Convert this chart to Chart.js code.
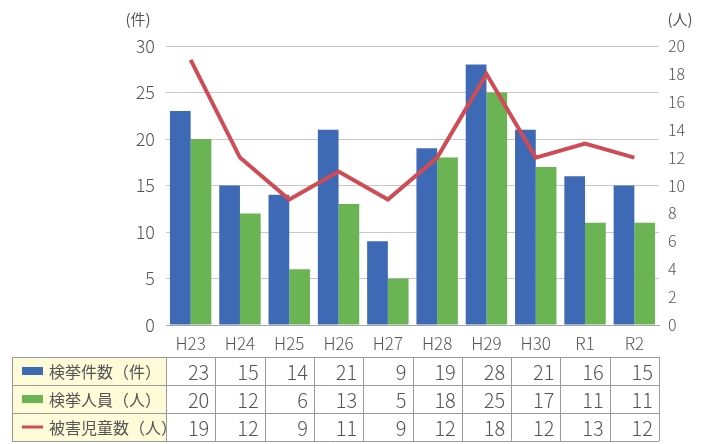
<!DOCTYPE html>
<html lang="ja">
<head>
<meta charset="utf-8">
<script src="https://cdn.jsdelivr.net/npm/chart.js@4/dist/chart.umd.min.js"></script>
<style>
  html, body { margin: 0; padding: 0; background: #fff; }
  #wrap { width: 720px; height: 444px; }
</style>
</head>
<body>
<div id="wrap"><canvas id="c" width="720" height="444"></canvas></div>
<script>
// 年度
const categories = ['H23', 'H24', 'H25', 'H26', 'H27', 'H28', 'H29', 'H30', 'R1', 'R2'];
// 検挙件数（件）
const casesCount = [23, 15, 14, 21, 9, 19, 28, 21, 16, 15];
// 検挙人員（人）
const arrestedCount = [20, 12, 6, 13, 5, 18, 25, 17, 11, 11];
// 被害児童数（人）
const victimCount = [19, 12, 9, 11, 9, 12, 18, 12, 13, 12];

const seriesNames = ['検挙件数（件）', '検挙人員（人）', '被害児童数（人）'];
const leftTicks = [0, 5, 10, 15, 20, 25, 30];
const rightTicks = [0, 2, 4, 6, 8, 10, 12, 14, 16, 18, 20];

const BLUE = '#3e69b4';
const GREEN = '#6bb453';
const RED = '#cf4c57';
const TEXT = '#555555';
const FONT = '"Noto Sans CJK JP", "Noto Sans", sans-serif';

// 単位ラベルと下部のデータ表
const tablePlugin = {
  id: 'dataTable',
  afterDraw(chart) {
    const ctx = chart.ctx;
    const xs = chart.scales.x;
    const step = xs.getPixelForValue(1) - xs.getPixelForValue(0);

    ctx.save();
    // 軸の単位
    ctx.fillStyle = TEXT;
    ctx.font = '15px ' + FONT;
    ctx.textAlign = 'center';
    ctx.textBaseline = 'middle';
    ctx.fillText('(件)', 138, 19);
    ctx.fillText('(人)', 680, 19);

    const top = 357, rowH = 28;
    const left = 12;
    const labelRight = xs.getPixelForValue(0) - step / 2;
    const right = xs.getPixelForValue(categories.length - 1) + step / 2;
    const rows = [casesCount, arrestedCount, victimCount];

    // 背景
    ctx.fillStyle = '#fdfbd8';
    ctx.fillRect(left, top, labelRight - left, rowH * rows.length);
    ctx.fillStyle = '#ffffff';
    ctx.fillRect(labelRight, top, right - labelRight, rowH * rows.length);

    // 罫線
    ctx.strokeStyle = '#9a9a9a';
    ctx.lineWidth = 1;
    ctx.beginPath();
    for (let r = 0; r <= rows.length; r++) {
      const y = Math.round(top + r * rowH) + 0.5;
      ctx.moveTo(left, y);
      ctx.lineTo(right, y);
    }
    const vLines = [left, labelRight];
    for (let i = 0; i < categories.length; i++) {
      vLines.push(xs.getPixelForValue(i) + step / 2);
    }
    vLines.forEach(x => {
      const xx = Math.round(x) + 0.5;
      ctx.moveTo(xx, top);
      ctx.lineTo(xx, top + rowH * rows.length);
    });
    ctx.stroke();

    // 凡例と系列名、各年度の値
    const colors = [BLUE, GREEN, RED];
    rows.forEach((vals, r) => {
      const cy = top + r * rowH + rowH / 2;
      ctx.fillStyle = colors[r];
      if (r < 2) {
        ctx.fillRect(22, cy - 4, 21, 8);
      } else {
        ctx.fillRect(22, cy - 1.5, 21, 3);
      }
      ctx.fillStyle = TEXT;
      ctx.font = '16px ' + FONT;
      ctx.textAlign = 'left';
      ctx.textBaseline = 'middle';
      ctx.fillText(seriesNames[r], 49, cy + 1);

      ctx.font = '300 20px ' + FONT;
      ctx.textAlign = 'right';
      vals.forEach((v, i) => {
        const cr = xs.getPixelForValue(i) + step / 2;
        ctx.fillText(String(v), cr - 6, cy + 1);
      });
    });
    ctx.restore();
  }
};

new Chart(document.getElementById('c'), {
  data: {
    labels: categories,
    datasets: [
      {
        type: 'line',
        label: seriesNames[2],
        data: victimCount,
        yAxisID: 'y1',
        borderColor: RED,
        borderWidth: 4,
        pointRadius: 0,
        tension: 0,
        fill: false,
        order: 0
      },
      {
        type: 'bar',
        label: seriesNames[0],
        data: casesCount,
        yAxisID: 'y',
        backgroundColor: BLUE,
        categoryPercentage: 0.84,
        barPercentage: 1.0,
        order: 1
      },
      {
        type: 'bar',
        label: seriesNames[1],
        data: arrestedCount,
        yAxisID: 'y',
        backgroundColor: GREEN,
        categoryPercentage: 0.84,
        barPercentage: 1.0,
        order: 1
      }
    ]
  },
  options: {
    responsive: false,
    animation: false,
    layout: { padding: { top: 46, left: 0, right: 0, bottom: 0 } },
    plugins: {
      legend: { display: false },
      tooltip: { enabled: false }
    },
    scales: {
      x: {
        grid: { display: false },
        border: { display: true, color: '#a8a8a8', width: 1 },
        ticks: { color: TEXT, font: { family: FONT, size: 17, weight: '300' }, padding: 0, maxRotation: 0 },
        afterFit(s) { s.height = 119; }
      },
      y: {
        position: 'left',
        min: 0,
        max: 30,
        afterBuildTicks(s) { s.ticks = leftTicks.map(v => ({ value: v })); },
        grid: { color: '#c8c8c8', drawTicks: false },
        border: { display: false },
        ticks: { color: TEXT, font: { family: FONT, size: 18, weight: '300' }, padding: 11 },
        afterFit(s) { s.width = 166; }
      },
      y1: {
        position: 'right',
        min: 0,
        max: 20,
        afterBuildTicks(s) { s.ticks = rightTicks.map(v => ({ value: v })); },
        grid: { display: false, drawTicks: false },
        border: { display: false },
        ticks: { color: TEXT, font: { family: FONT, size: 16, weight: '300' }, padding: 9 },
        afterFit(s) { s.width = 61; }
      }
    }
  },
  plugins: [tablePlugin]
});
</script>
</body>
</html>
